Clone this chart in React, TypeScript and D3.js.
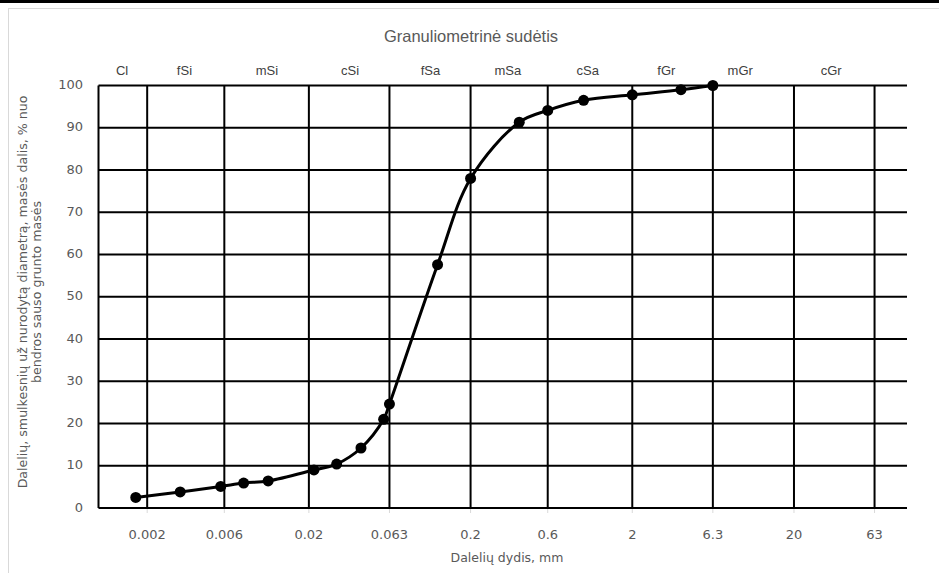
import React from "react";
import * as d3 from "d3";

const gridValues = [0.002, 0.006, 0.02, 0.063, 0.2, 0.6, 2, 6.3, 20, 63];
const tickLabels = ["0.002", "0.006", "0.02", "0.063", "0.2", "0.6", "2", "6.3", "20", "63"];
const yTicks = [0, 10, 20, 30, 40, 50, 60, 70, 80, 90, 100];
const categories = ["Cl", "fSi", "mSi", "cSi", "fSa", "mSa", "cSa", "fGr", "mGr", "cGr"];
const categoryPos = [0.0014, 0.0034, 0.011, 0.036, 0.113, 0.34, 1.06, 3.25, 9.3, 34];
const sizes = [0.0017, 0.0032, 0.0057, 0.0079, 0.0112, 0.0215, 0.0297, 0.042, 0.058, 0.063, 0.125, 0.2, 0.4, 0.6, 1, 2, 4, 6.3];
const passing = [2.5, 3.8, 5.1, 5.9, 6.4, 9.0, 10.4, 14.2, 21.0, 24.6, 57.6, 78.0, 91.3, 94.1, 96.5, 97.8, 99.0, 100];

const W = 939;
const H = 573;
const tickFont = "'DejaVu Sans', sans-serif";
const labelFont = "'Liberation Sans', Arial, sans-serif";
const gray = "#595959";

export default function App() {
  const x = d3.scaleLog().domain([0.001, 100]).range([98.5, 907]);
  const y = d3.scaleLinear().domain([0, 100]).range([508, 85.5]);
  const pts: [number, number][] = sizes.map((s, i) => [x(s), y(passing[i])]);
  const line = d3.line().curve(d3.curveCatmullRom.alpha(0.5))(pts) || "";
  const [x0, x1] = x.range();
  const [yb, yt] = y.range();

  return (
    <svg width={W} height={H} style={{ position: "absolute", left: 0, top: 0, background: "#fff" }}>
      <rect x={0} y={0} width={W} height={H} fill="#fff" />
      <rect x={0} y={0} width={W} height={3} fill="#000" />
      <rect x={8.5} y={8.5} width={W} height={H} fill="#fff" stroke="#d9d9d9" strokeWidth={1} />
      <text x={471} y={38} textAnchor="middle" dominantBaseline="middle" fontFamily={labelFont} fontSize={16.5} fill={gray}>
        Granuliometrinė sudėtis
      </text>
      {categories.map((c, i) => (
        <text key={c} x={x(categoryPos[i])} y={72} textAnchor="middle" dominantBaseline="middle" fontFamily={labelFont} fontSize={13} fill="#404040">
          {c}
        </text>
      ))}
      {gridValues.map((v) => (
        <line key={"tk" + v} x1={x(v)} x2={x(v)} y1={yb} y2={yb + 5} stroke="#d9d9d9" strokeWidth={1} />
      ))}
      {yTicks.map((t) => (
        <line key={"h" + t} x1={x0} x2={x1} y1={y(t)} y2={y(t)} stroke="#000" strokeWidth={2} />
      ))}
      <line x1={x0} x2={x0} y1={yt} y2={yb} stroke="#000" strokeWidth={2} />
      {gridValues.map((v) => (
        <line key={"v" + v} x1={x(v)} x2={x(v)} y1={yt} y2={yb} stroke="#000" strokeWidth={2} />
      ))}
      {yTicks.map((t) => (
        <text key={"yl" + t} x={83} y={y(t)} textAnchor="end" dominantBaseline="middle" fontFamily={tickFont} fontSize={13} fill={gray}>
          {t}
        </text>
      ))}
      {gridValues.map((v, i) => (
        <text key={"xl" + v} x={x(v)} y={535} textAnchor="middle" dominantBaseline="middle" fontFamily={tickFont} fontSize={13} fill={gray}>
          {tickLabels[i]}
        </text>
      ))}
      <text x={507} y={558} textAnchor="middle" dominantBaseline="middle" fontFamily={tickFont} fontSize={12.5} fill={gray}>
        Dalelių dydis, mm
      </text>
      <g transform="translate(23,292) rotate(-90)">
        <text x={0} y={0} textAnchor="middle" dominantBaseline="middle" fontFamily={tickFont} fontSize={12.6} fill={gray}>
          Dalelių, smulkesnių už nurodytą diametrą, masės dalis, % nuo
        </text>
        <text x={0} y={14.5} textAnchor="middle" dominantBaseline="middle" fontFamily={tickFont} fontSize={12.6} fill={gray}>
          bendros sauso grunto masės
        </text>
      </g>
      <path d={line} fill="none" stroke="#000" strokeWidth={3} />
      {pts.map((p, i) => (
        <circle key={"p" + i} cx={p[0]} cy={p[1]} r={5.5} fill="#000" />
      ))}
    </svg>
  );
}
